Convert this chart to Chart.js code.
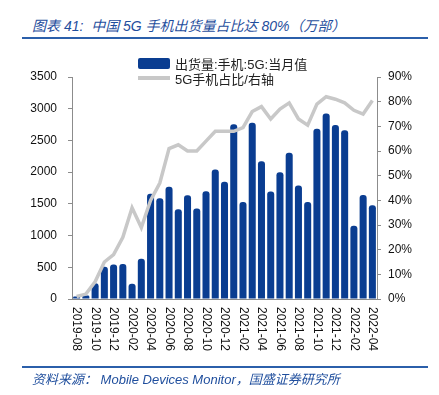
<!DOCTYPE html>
<html><head><meta charset="utf-8">
<script src="https://cdn.jsdelivr.net/npm/chart.js@4/dist/chart.umd.min.js"></script>
<style>
html,body{margin:0;padding:0;background:#fff;}
#wrap{position:relative;width:439px;height:395px;overflow:hidden;font-family:"Liberation Sans",Arial,"Noto Sans CJK SC",sans-serif;}
#title{position:absolute;left:32px;top:15px;font-size:14px;font-style:italic;color:#1f4e9d;white-space:nowrap;}
#rule1{position:absolute;left:22px;top:37px;width:406px;height:2px;background:#2b5faa;}
#rule2{position:absolute;left:22px;top:366px;width:406px;height:2px;background:#2b5faa;}
#source{position:absolute;left:32px;top:369px;font-size:13px;font-style:italic;color:#1f4e9d;white-space:nowrap;}
#c{position:absolute;left:0;top:0;}
.lg{position:absolute;left:138px;font-size:13px;color:#222;display:flex;align-items:center;white-space:nowrap;height:16px;}
.sw{display:inline-block;width:32px;margin-right:5px;}
</style></head>
<body><div id="wrap">
<div id="title">图表 41:&nbsp; 中国 5G 手机出货量占比达 80%（万部）</div>
<div id="rule1"></div>
<canvas id="c" width="439" height="395"></canvas>
<div id="legend"></div>
<div id="rule2"></div>
<div id="source">资料来源：&nbsp;Mobile Devices Monitor，国盛证券研究所</div>
</div>
<script>
const months = ["2019-08","2019-09","2019-10","2019-11","2019-12","2020-01","2020-02","2020-03","2020-04","2020-05","2020-06","2020-07","2020-08","2020-09","2020-10","2020-11","2020-12","2021-01","2021-02","2021-03","2021-04","2021-05","2021-06","2021-07","2021-08","2021-09","2021-10","2021-11","2021-12","2022-01","2022-02","2022-03","2022-04"];
const tickLabels = ["2019-08","2019-10","2019-12","2020-02","2020-04","2020-06","2020-08","2020-10","2020-12","2021-02","2021-04","2021-06","2021-08","2021-10","2021-12","2022-02","2022-04"];
const shipments = [40,55,250,510,545,550,240,635,1660,1590,1770,1415,1635,1425,1700,2040,1850,2755,1530,2780,2170,1695,2000,2305,1790,1530,2685,2925,2745,2660,1155,1640,1480];
const share5G = [1,2,7,15,18,25,37,29,40,47,61,62.5,60,60,64,68,68,68,69.5,76,78,73,77,79.5,73,70.5,79,82,81,79.5,76.5,75,80.5];
const leftTicks = [0,500,1000,1500,2000,2500,3000,3500];
const rightTicks = [0,10,20,30,40,50,60,70,80,90];
const barLabel = "出货量:手机:5G:当月值";
const lineLabel = "5G手机占比/右轴";

const FONT = '"Liberation Sans", Arial, sans-serif';
Chart.defaults.font.family = FONT;
Chart.defaults.font.size = 12;
Chart.defaults.color = '#111';
const axisColor = '#8c8c8c';

const xLabelPlugin = {
  id: 'xlabels',
  afterDraw(chart) {
    const xs = chart.scales.x, ctx = chart.ctx;
    ctx.save();
    ctx.font = '12px ' + FONT;
    ctx.fillStyle = '#111';
    ctx.textAlign = 'left';
    ctx.textBaseline = 'middle';
    months.forEach((m, i) => {
      if (!tickLabels.includes(m)) return;
      const x = xs.getPixelForValue(i);
      ctx.save();
      ctx.translate(x, chart.chartArea.bottom + 8);
      ctx.rotate(Math.PI / 2);
      ctx.fillText(m, 0, 0);
      ctx.restore();
    });
    ctx.restore();
  }
};

const chart = new Chart(document.getElementById('c'), {
  data: {
    labels: months,
    datasets: [
      { type: 'line', label: lineLabel, data: share5G, yAxisID: 'y1', borderColor: '#c8c8c8', borderWidth: 3.5, pointRadius: 0, tension: 0, order: 0 },
      { type: 'bar', label: barLabel, data: shipments, yAxisID: 'y', backgroundColor: '#0a3d91', barPercentage: 0.76, categoryPercentage: 1, borderRadius: {topLeft: 3, topRight: 3}, order: 1 }
    ]
  },
  options: {
    responsive: false,
    animation: false,
    layout: { padding: { top: 77, left: 0, right: 0, bottom: 0 } },
    plugins: { legend: { display: false }, tooltip: { enabled: false } },
    scales: {
      x: {
        ticks: { display: false },
        grid: { display: true, drawOnChartArea: false, drawTicks: false, color: axisColor },
        border: { display: true, color: axisColor },
        afterFit(s) { s.height = 96; }
      },
      y: {
        position: 'left', min: 0, max: 3500,
        afterBuildTicks(s) { s.ticks = leftTicks.map(v => ({ value: v })); },
        ticks: { padding: 11, color: '#111', font: { size: 12 }, callback: v => String(v) },
        grid: { drawOnChartArea: false, drawTicks: true, tickLength: 4, color: axisColor },
        border: { display: true, color: axisColor },
        afterFit(s) { s.width = 72; }
      },
      y1: {
        position: 'right', min: 0, max: 90,
        afterBuildTicks(s) { s.ticks = rightTicks.map(v => ({ value: v })); },
        ticks: { padding: 7, color: '#111', font: { size: 12 }, callback: v => v + '%' },
        grid: { drawOnChartArea: false, drawTicks: true, tickLength: 4, color: axisColor },
        border: { display: true, color: axisColor },
        afterFit(s) { s.width = 62; }
      }
    }
  },
  plugins: [xLabelPlugin]
});

// HTML legend built from the chart's datasets
const lg = document.getElementById('legend');
[chart.data.datasets[1], chart.data.datasets[0]].forEach((ds, i) => {
  const row = document.createElement('div');
  row.className = 'lg';
  row.style.top = (i === 0 ? 55 : 70) + 'px';
  const sw = document.createElement('span');
  sw.className = 'sw';
  if (ds.type === 'bar') { sw.style.height = '11px'; sw.style.background = ds.backgroundColor; sw.style.borderRadius = '2px'; }
  else { sw.style.height = '4px'; sw.style.background = ds.borderColor; }
  const t = document.createElement('span');
  t.textContent = ds.label;
  row.appendChild(sw); row.appendChild(t);
  lg.appendChild(row);
});
</script>
</body></html>
